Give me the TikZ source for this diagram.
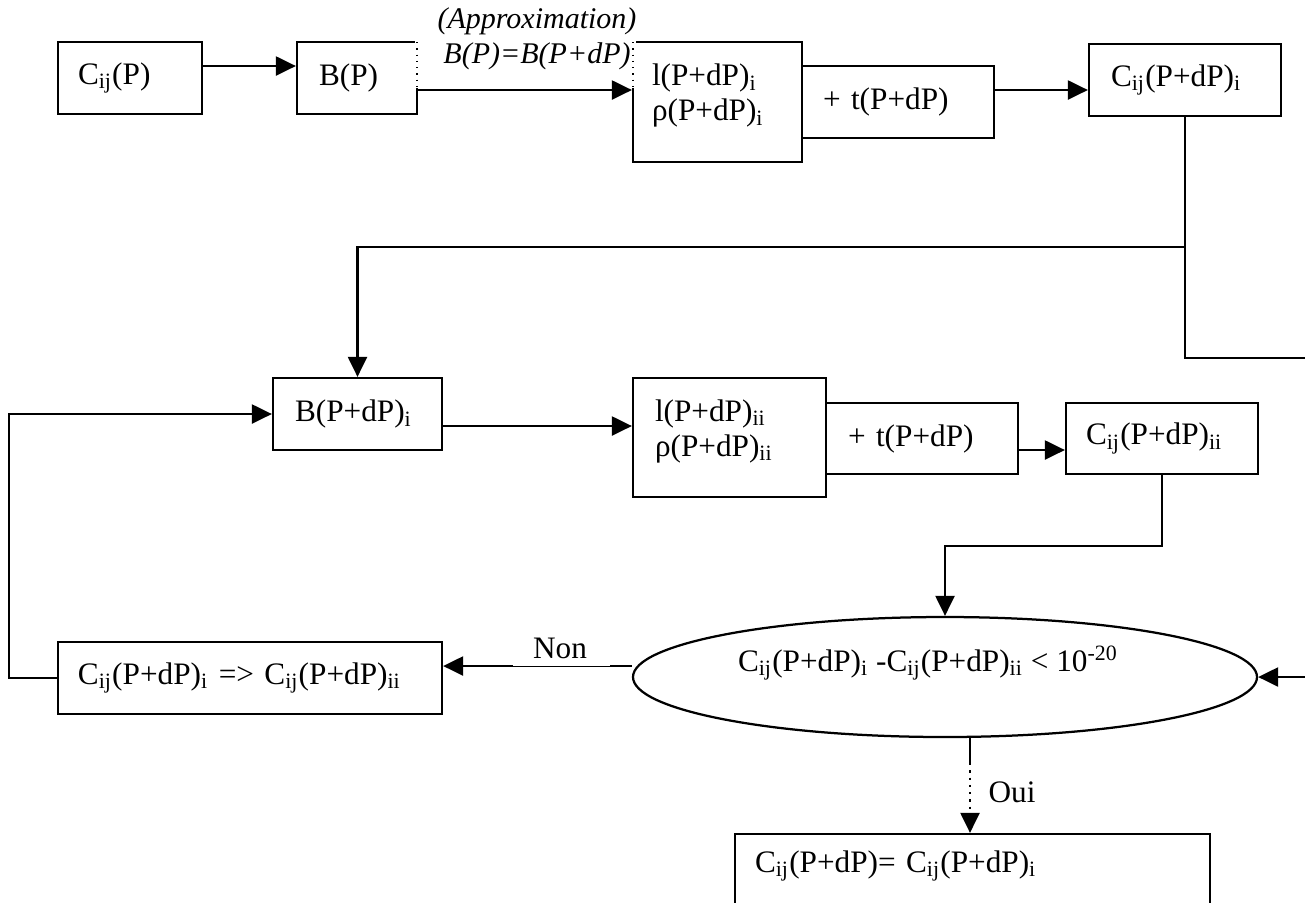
\documentclass[tikz,border=0pt]{standalone}
\usepackage{fontspec}
\setmainfont{Liberation Serif}
\usetikzlibrary{arrows.meta,shapes.geometric}
\begin{document}
\begin{tikzpicture}[x=0.4pt,y=-0.4pt,
  font=\fontsize{12.5}{14}\selectfont,
  ln/.style={line width=0.9pt},
  arr/.style={ln,-{Triangle[length=8pt,width=7.6pt]}},
  box/.style={draw,ln,rectangle,inner ysep=0pt,align=left,anchor=center},
  lbl/.style={inner sep=0pt,anchor=center}]
\useasboundingbox (0,0) rectangle (1305,902);
\clip (0,0) rectangle (1305,902);
% boxes
\node[box,text width=41.6pt,inner xsep=8pt,minimum height=28.8pt] (b1) at (130,78) {C\textsubscript{ij}(P)};
\node[box,text width=30.4pt,inner xsep=8.8pt,minimum height=28.8pt] (b2) at (357,78) {B(P)};
\node[box,text width=52.4pt,inner xsep=7.6pt,minimum height=48pt] (b3) at (717.5,102) {l(P+dP)\textsubscript{i}\\ρ(P+dP)\textsubscript{i}\rule[-7.5pt]{0pt}{7.5pt}};
\node[box,text width=60pt,inner xsep=8.4pt,minimum height=28.8pt] (b4) at (898,102) {+ t(P+dP)};
\node[box,text width=59.2pt,inner xsep=8.8pt,minimum height=28.8pt] (b5) at (1185,80) {C\textsubscript{ij}(P+dP)\textsubscript{i}};
\node[box,text width=50pt,inner xsep=8.8pt,minimum height=28.8pt] (b6) at (357.5,414) {B(P+dP)\textsubscript{i}};
\node[box,text width=59.6pt,inner xsep=8.8pt,minimum height=47.6pt] (b7) at (729.5,437.5) {l(P+dP)\textsubscript{ii}\\ρ(P+dP)\textsubscript{ii}\rule[-7.5pt]{0pt}{7.5pt}};
\node[box,text width=59.2pt,inner xsep=8.8pt,minimum height=28.4pt] (b8) at (922,438.5) {+ t(P+dP)};
\node[box,text width=60.8pt,inner xsep=8pt,minimum height=28.4pt] (b9) at (1162,438.5) {C\textsubscript{ij}(P+dP)\textsubscript{ii}};
\node[box,text width=137.6pt,inner xsep=8pt,minimum height=28.8pt] (b10) at (250,678) {C\textsubscript{ij}(P+dP)\textsubscript{i} => C\textsubscript{ij}(P+dP)\textsubscript{ii}};
\node[box,text width=174pt,inner xsep=8pt,minimum height=30.4pt] (b11) at (972.5,872) {C\textsubscript{ij}(P+dP)= C\textsubscript{ij}(P+dP)\textsubscript{i}\rule[-8.3pt]{0pt}{8.3pt}};
\node[draw,ln,ellipse,inner sep=0pt,minimum width=249.6pt,minimum height=48pt] (ell) at (945,677) {};
\node[lbl] (cond) at (928,663) {C\textsubscript{ij}(P+dP)\textsubscript{i} -C\textsubscript{ij}(P+dP)\textsubscript{ii} < 10\textsuperscript{-20}};
% approximation label covering box edges
\fill[white] (415,0) rectangle (636,88);
\draw[dotted,line width=0.5pt] (417,42) -- (417,88);
\draw[dotted,line width=0.5pt] (633,42) -- (633,88);
\node[lbl,align=center,font=\fontsize{12}{14}\selectfont\itshape] (appr) at (537,39) {(Approximation)\\B(P)=B(P+dP)};
% coordinates for free ends
\coordinate (r1) at (1305,358);
\coordinate (r2) at (1305,677);
\coordinate (j1) at (1185,247);
\coordinate (lp) at (9,678);
\coordinate (n1) at (610,666);
\coordinate (n2) at (513,666);
\coordinate (o1) at (970,737);
\coordinate (o2) at (970,763);
% connectors
\draw[arr] (b1.east |- 0,66) -- (b2.west |- 0,66);
\draw[arr] (b2.east |- 0,90) -- (b3.west |- 0,90);
\draw[arr] (b4.east |- 0,90) -- (b5.west |- 0,90);
\draw[ln] (b5.south) -- (b5.south |- r1) -- (r1);
\draw[arr] (j1) -| (b6.north);
\draw[arr] (b10.west) -- (lp) |- (b6.west);
\draw[arr] (b6.east |- 0,426) -- (b7.west |- 0,426);
\draw[arr] (b8.east |- 0,450) -- (b9.west |- 0,450);
\draw[arr] (b9.south) -- (b9.south |- 0,546) -| (ell.north);
\draw[arr] (r2) -- (ell.east);
\draw[ln] (ell.west |- n1) -- (n1);
\draw[line width=0.4pt] (n1) -- (n2);
\draw[arr] (n2) -- (b10.east |- n2);
\draw[ln] (o1) -- (o2);
\draw[arr,dotted] (o2) -- (b11.north -| o2);
% labels
\node[lbl] (non) at (560,648) {Non};
\node[lbl] (oui) at (1012,792) {Oui};
\end{tikzpicture}
\end{document}
